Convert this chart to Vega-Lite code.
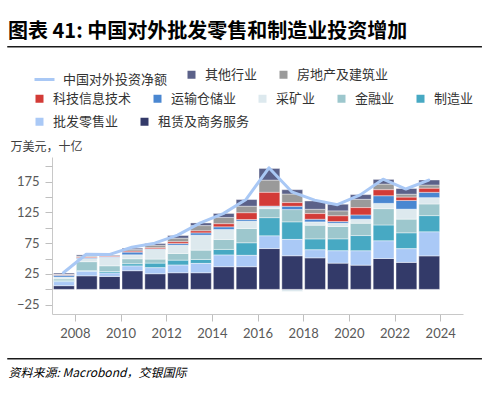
{
  "$schema": "https://vega.github.io/schema/vega-lite/v6.json",
  "width": 411,
  "height": 157,
  "autosize": {"type": "none"},
  "padding": {"left": 52, "top": 157, "right": 25, "bottom": 79},
  "background": "white",
  "config": {
    "view": {"stroke": null},
    "font": "Noto Sans CJK SC",
    "axis": {"labelOverlap": false},
    "legend": {
      "orient": "none", "direction": "horizontal", "title": null,
      "labelFont": "Noto Sans CJK SC", "labelFontSize": 13, "labelColor": "#333333", "labelOffset": 7,
      "columnPadding": 19, "symbolType": "square", "symbolSize": 64, "symbolStrokeWidth": 0
    }
  },
  "title": {
    "text": "图表 41: 中国对外批发零售和制造业投资增加",
    "anchor": "start",
    "frame": "group",
    "dx": -44,
    "fontSize": 20,
    "font": "Noto Sans CJK SC",
    "fontWeight": "bold",
    "color": "#000000"
  },
  "resolve": {"axis": {"y": "independent"}},
  "datasets": {
    "bars": [
      {"year": 2007, "cat": "租赁及商务服务", "value": 6}, {"year": 2007, "cat": "批发零售业", "value": 6.5}, {"year": 2007, "cat": "制造业", "value": 1.5}, {"year": 2007, "cat": "金融业", "value": 3}, {"year": 2007, "cat": "采矿业", "value": 3}, {"year": 2007, "cat": "运输仓储业", "value": 3}, {"year": 2007, "cat": "科技信息技术", "value": 0.5}, {"year": 2007, "cat": "房地产及建筑业", "value": 1}, {"year": 2007, "cat": "其他行业", "value": 2},
      {"year": 2008, "cat": "租赁及商务服务", "value": 22}, {"year": 2008, "cat": "批发零售业", "value": 7}, {"year": 2008, "cat": "制造业", "value": 1.5}, {"year": 2008, "cat": "金融业", "value": 14.5}, {"year": 2008, "cat": "采矿业", "value": 5}, {"year": 2008, "cat": "运输仓储业", "value": 1.5}, {"year": 2008, "cat": "科技信息技术", "value": 1}, {"year": 2008, "cat": "房地产及建筑业", "value": 1.5}, {"year": 2008, "cat": "其他行业", "value": 2},
      {"year": 2009, "cat": "租赁及商务服务", "value": 21}, {"year": 2009, "cat": "批发零售业", "value": 5.4}, {"year": 2009, "cat": "制造业", "value": 2.7}, {"year": 2009, "cat": "金融业", "value": 9.2}, {"year": 2009, "cat": "采矿业", "value": 13.5}, {"year": 2009, "cat": "运输仓储业", "value": 1}, {"year": 2009, "cat": "科技信息技术", "value": 1}, {"year": 2009, "cat": "房地产及建筑业", "value": 1}, {"year": 2009, "cat": "其他行业", "value": 1},
      {"year": 2010, "cat": "租赁及商务服务", "value": 30.3}, {"year": 2010, "cat": "批发零售业", "value": 7.6}, {"year": 2010, "cat": "制造业", "value": 3.8}, {"year": 2010, "cat": "金融业", "value": 8}, {"year": 2010, "cat": "采矿业", "value": 6.5}, {"year": 2010, "cat": "运输仓储业", "value": 4.3}, {"year": 2010, "cat": "科技信息技术", "value": 1.5}, {"year": 2010, "cat": "房地产及建筑业", "value": 2.7}, {"year": 2010, "cat": "其他行业", "value": 2.2},
      {"year": 2011, "cat": "租赁及商务服务", "value": 25.4}, {"year": 2011, "cat": "批发零售业", "value": 9.7}, {"year": 2011, "cat": "制造业", "value": 7.6}, {"year": 2011, "cat": "金融业", "value": 6.5}, {"year": 2011, "cat": "采矿业", "value": 15.7}, {"year": 2011, "cat": "运输仓储业", "value": 1}, {"year": 2011, "cat": "科技信息技术", "value": 1.6}, {"year": 2011, "cat": "房地产及建筑业", "value": 4.3}, {"year": 2011, "cat": "其他行业", "value": 2.7},
      {"year": 2012, "cat": "租赁及商务服务", "value": 27}, {"year": 2012, "cat": "批发零售业", "value": 12.4}, {"year": 2012, "cat": "制造业", "value": 8.1}, {"year": 2012, "cat": "金融业", "value": 10.8}, {"year": 2012, "cat": "采矿业", "value": 13.5}, {"year": 2012, "cat": "运输仓储业", "value": 2.7}, {"year": 2012, "cat": "科技信息技术", "value": 2.7}, {"year": 2012, "cat": "房地产及建筑业", "value": 6}, {"year": 2012, "cat": "其他行业", "value": 4.3},
      {"year": 2013, "cat": "租赁及商务服务", "value": 27}, {"year": 2013, "cat": "批发零售业", "value": 15.1}, {"year": 2013, "cat": "制造业", "value": 6.5}, {"year": 2013, "cat": "金融业", "value": 15.1}, {"year": 2013, "cat": "采矿业", "value": 24.3}, {"year": 2013, "cat": "运输仓储业", "value": 3.8}, {"year": 2013, "cat": "科技信息技术", "value": 3.2}, {"year": 2013, "cat": "房地产及建筑业", "value": 8.6}, {"year": 2013, "cat": "其他行业", "value": 4.3},
      {"year": 2014, "cat": "租赁及商务服务", "value": 36.8}, {"year": 2014, "cat": "批发零售业", "value": 18.9}, {"year": 2014, "cat": "制造业", "value": 9.2}, {"year": 2014, "cat": "金融业", "value": 16.2}, {"year": 2014, "cat": "采矿业", "value": 16.2}, {"year": 2014, "cat": "运输仓储业", "value": 4.3}, {"year": 2014, "cat": "科技信息技术", "value": 4.9}, {"year": 2014, "cat": "房地产及建筑业", "value": 10.3}, {"year": 2014, "cat": "其他行业", "value": 6.5},
      {"year": 2015, "cat": "租赁及商务服务", "value": 36.8}, {"year": 2015, "cat": "批发零售业", "value": 18.4}, {"year": 2015, "cat": "制造业", "value": 20.5}, {"year": 2015, "cat": "金融业", "value": 23.2}, {"year": 2015, "cat": "采矿业", "value": 11.9}, {"year": 2015, "cat": "运输仓储业", "value": 2.7}, {"year": 2015, "cat": "科技信息技术", "value": 10.8}, {"year": 2015, "cat": "房地产及建筑业", "value": 10.8}, {"year": 2015, "cat": "其他行业", "value": 10.8},
      {"year": 2016, "cat": "租赁及商务服务", "value": 66.3}, {"year": 2016, "cat": "批发零售业", "value": 20.5}, {"year": 2016, "cat": "制造业", "value": 29.7}, {"year": 2016, "cat": "金融业", "value": 14.6}, {"year": 2016, "cat": "采矿业", "value": 3.2}, {"year": 2016, "cat": "运输仓储业", "value": 1}, {"year": 2016, "cat": "科技信息技术", "value": 22.2}, {"year": 2016, "cat": "房地产及建筑业", "value": 20}, {"year": 2016, "cat": "其他行业", "value": 18.9},
      {"year": 2017, "cat": "租赁及商务服务", "value": 54.6}, {"year": 2017, "cat": "批发零售业", "value": 26.5}, {"year": 2017, "cat": "制造业", "value": 28.6}, {"year": 2017, "cat": "金融业", "value": 19.9}, {"year": 2017, "cat": "采矿业", "value": -3.5}, {"year": 2017, "cat": "运输仓储业", "value": 5.4}, {"year": 2017, "cat": "科技信息技术", "value": 5.9}, {"year": 2017, "cat": "房地产及建筑业", "value": 14}, {"year": 2017, "cat": "其他行业", "value": 7},
      {"year": 2018, "cat": "租赁及商务服务", "value": 51.2}, {"year": 2018, "cat": "批发零售业", "value": 13}, {"year": 2018, "cat": "制造业", "value": 17.8}, {"year": 2018, "cat": "金融业", "value": 22.2}, {"year": 2018, "cat": "采矿业", "value": 5.4}, {"year": 2018, "cat": "运输仓储业", "value": 4.3}, {"year": 2018, "cat": "科技信息技术", "value": 9.2}, {"year": 2018, "cat": "房地产及建筑业", "value": 7}, {"year": 2018, "cat": "其他行业", "value": 13.5},
      {"year": 2019, "cat": "租赁及商务服务", "value": 42.6}, {"year": 2019, "cat": "批发零售业", "value": 20}, {"year": 2019, "cat": "制造业", "value": 19.5}, {"year": 2019, "cat": "金融业", "value": 20}, {"year": 2019, "cat": "采矿业", "value": 5.4}, {"year": 2019, "cat": "运输仓储业", "value": 2.7}, {"year": 2019, "cat": "科技信息技术", "value": 9.2}, {"year": 2019, "cat": "房地产及建筑业", "value": 8.1}, {"year": 2019, "cat": "其他行业", "value": 10.8},
      {"year": 2020, "cat": "租赁及商务服务", "value": 39.3}, {"year": 2020, "cat": "批发零售业", "value": 23.2}, {"year": 2020, "cat": "制造业", "value": 24.9}, {"year": 2020, "cat": "金融业", "value": 20}, {"year": 2020, "cat": "采矿业", "value": 6.5}, {"year": 2020, "cat": "运输仓储业", "value": 7}, {"year": 2020, "cat": "科技信息技术", "value": 11.9}, {"year": 2020, "cat": "房地产及建筑业", "value": 13.5}, {"year": 2020, "cat": "其他行业", "value": 7.6},
      {"year": 2021, "cat": "租赁及商务服务", "value": 50.1}, {"year": 2021, "cat": "批发零售业", "value": 28.6}, {"year": 2021, "cat": "制造业", "value": 25.9}, {"year": 2021, "cat": "金融业", "value": 26.5}, {"year": 2021, "cat": "采矿业", "value": 8.6}, {"year": 2021, "cat": "运输仓储业", "value": 12.4}, {"year": 2021, "cat": "科技信息技术", "value": 9.7}, {"year": 2021, "cat": "房地产及建筑业", "value": 9.2}, {"year": 2021, "cat": "其他行业", "value": 7.6},
      {"year": 2022, "cat": "租赁及商务服务", "value": 43.8}, {"year": 2022, "cat": "批发零售业", "value": 22.2}, {"year": 2022, "cat": "制造业", "value": 25.9}, {"year": 2022, "cat": "金融业", "value": 22.2}, {"year": 2022, "cat": "采矿业", "value": 16.2}, {"year": 2022, "cat": "运输仓储业", "value": 14}, {"year": 2022, "cat": "科技信息技术", "value": 5.4}, {"year": 2022, "cat": "房地产及建筑业", "value": 4.9}, {"year": 2022, "cat": "其他行业", "value": 9.2},
      {"year": 2023, "cat": "租赁及商务服务", "value": 54.4}, {"year": 2023, "cat": "批发零售业", "value": 38.9}, {"year": 2023, "cat": "制造业", "value": 26.5}, {"year": 2023, "cat": "金融业", "value": 18.9}, {"year": 2023, "cat": "采矿业", "value": 10.3}, {"year": 2023, "cat": "运输仓储业", "value": 8.6}, {"year": 2023, "cat": "科技信息技术", "value": 6.5}, {"year": 2023, "cat": "房地产及建筑业", "value": 5.4}, {"year": 2023, "cat": "其他行业", "value": 8.1}
    ],
    "total": [
      {"year": 2007, "total": 27}, {"year": 2008, "total": 57}, {"year": 2009, "total": 56.5}, {"year": 2010, "total": 68.5}, {"year": 2011, "total": 75}, {"year": 2012, "total": 88}, {"year": 2013, "total": 108}, {"year": 2014, "total": 123}, {"year": 2015, "total": 146}, {"year": 2016, "total": 197.5}, {"year": 2017, "total": 158.5}, {"year": 2018, "total": 145}, {"year": 2019, "total": 137.5}, {"year": 2020, "total": 153.5}, {"year": 2021, "total": 179}, {"year": 2022, "total": 163}, {"year": 2023, "total": 177.5}
    ],
    "frame": [{"pos": "top"}]
  },
  "layer": [
    {
      "data": {"name": "bars"},
      "transform": [
        {"calculate": "indexof(['租赁及商务服务','批发零售业','制造业','金融业','采矿业','运输仓储业','科技信息技术','房地产及建筑业','其他行业'], datum.cat)", "as": "rank"},
        {"stack": "value", "groupby": ["year"], "sort": [{"field": "rank", "order": "ascending"}], "as": ["v0", "v1"], "offset": "zero"}
      ],
      "resolve": {"scale": {"fill": "independent"}, "legend": {"fill": "independent"}},
      "layer": [
        {
          "transform": [{"filter": {"field": "cat", "oneOf": ["其他行业", "房地产及建筑业"]}}],
          "mark": {"type": "bar", "binSpacing": 2, "stroke": "#ffffff", "strokeWidth": 0.5, "strokeOpacity": 0.8},
          "encoding": {
            "x": {
              "field": "year", "type": "quantitative",
              "bin": {"step": 1, "extent": [2007, 2025], "nice": false},
              "scale": {"domain": [2007, 2025]},
              "axis": {
                "values": [2008, 2010, 2012, 2014, 2016, 2018, 2020, 2022, 2024],
                "format": "d", "grid": false, "labelFlush": false, "labelOverlap": false,
                "domainColor": "#c8c8c8", "tickColor": "#bfbfbf", "tickSize": 7,
                "labelFont": "Lato", "labelFontSize": 13, "labelColor": "#595959", "labelPadding": 6,
                "title": "资料来源: Macrobond，交银国际",
                "titleFont": "Noto Sans CJK SC", "titleFontSize": 12, "titleFontStyle": "italic", "titleFontWeight": "normal",
                "titleColor": "#000000", "titleAnchor": null, "titleAlign": "left", "titleBaseline": "middle",
                "titleX": -44, "titleY": 58
              }
            },
            "y": {
              "field": "v0", "type": "quantitative",
              "scale": {"domain": [-40, 215], "nice": false, "zero": false},
              "axis": {
                "orient": "left",
                "values": [-25, 75, 175],
                "labelOverlap": false, "labelFlush": false,
                "grid": false, "domainColor": "#c8c8c8", "tickColor": "#bfbfbf", "tickSize": 7,
                "labelFont": "Lato", "labelFontSize": 13, "labelColor": "#595959", "labelPadding": 6,
                "title": "万美元，十亿", "titleFont": "Noto Sans CJK SC", "titleFontSize": 12, "titleFontWeight": "normal",
                "titleColor": "#404040", "titleAngle": 0, "titleAlign": "left", "titleBaseline": "middle",
                "titleAnchor": null, "titleX": -42, "titleY": -11
              }
            },
            "y2": {"field": "v1"},
            "color": {
              "field": "cat", "type": "nominal",
              "scale": {"domain": ["其他行业", "房地产及建筑业"], "range": ["#5b6189", "#9a9a9a"]},
              "legend": {"legendX": 133, "legendY": -89, "columns": 2}
            }
          }
        },
        {
          "transform": [{"filter": {"field": "cat", "oneOf": ["科技信息技术", "运输仓储业", "采矿业", "金融业", "制造业"]}}],
          "mark": {"type": "bar", "binSpacing": 2, "stroke": "#ffffff", "strokeWidth": 0.5, "strokeOpacity": 0.8},
          "encoding": {
            "x": {"field": "year", "type": "quantitative", "bin": {"step": 1, "extent": [2007, 2025], "nice": false}, "scale": {"domain": [2007, 2025]}},
            "y": {"field": "v0", "type": "quantitative", "scale": {"domain": [-40, 215], "nice": false, "zero": false}},
            "y2": {"field": "v1"},
            "fill": {
              "field": "cat", "type": "nominal",
              "scale": {"domain": ["科技信息技术", "运输仓储业", "采矿业", "金融业", "制造业"], "range": ["#d33b37", "#4a87d1", "#dde9ee", "#9dc7cd", "#47a9c3"]},
              "legend": {"legendX": -19, "legendY": -65, "columns": 5}
            }
          }
        },
        {
          "transform": [{"filter": {"field": "cat", "oneOf": ["批发零售业", "租赁及商务服务"]}}],
          "mark": {"type": "bar", "binSpacing": 2, "stroke": "#ffffff", "strokeWidth": 0.5, "strokeOpacity": 0.8},
          "encoding": {
            "x": {"field": "year", "type": "quantitative", "bin": {"step": 1, "extent": [2007, 2025], "nice": false}, "scale": {"domain": [2007, 2025]}},
            "y": {"field": "v0", "type": "quantitative", "scale": {"domain": [-40, 215], "nice": false, "zero": false}},
            "y2": {"field": "v1"},
            "fill": {
              "field": "cat", "type": "nominal",
              "scale": {"domain": ["批发零售业", "租赁及商务服务"], "range": ["#aac9f6", "#333a69"]},
              "legend": {"legendX": -19, "legendY": -42, "columns": 2}
            }
          }
        }
      ]
    },
    {
      "data": {"name": "total"},
      "mark": {"type": "line", "strokeWidth": 3, "strokeCap": "round", "strokeJoin": "round"},
      "encoding": {
        "x": {"field": "year", "type": "quantitative", "bin": {"step": 1, "extent": [2007, 2025], "nice": false}, "scale": {"domain": [2007, 2025]}},
        "y": {
          "field": "total", "type": "quantitative", "scale": {"domain": [-40, 215], "nice": false, "zero": false},
          "axis": {
            "orient": "left", "values": [25, 125], "domain": false, "grid": false, "title": null,
            "tickColor": "#bfbfbf", "tickSize": 7, "labelOverlap": false, "labelFlush": false,
            "labelFont": "Lato", "labelFontSize": 13, "labelColor": "#595959", "labelPadding": 6
          }
        },
        "stroke": {
          "datum": "中国对外投资净额", "type": "nominal",
          "scale": {"domain": ["中国对外投资净额"], "range": ["#a9c8f5"]},
          "legend": {"legendX": -19, "legendY": -89, "columns": 1, "symbolType": "stroke", "symbolSize": 400, "symbolStrokeWidth": 3, "symbolStrokeColor": "#a9c8f5"}
        }
      }
    },
    {
      "data": {"name": "frame"},
      "mark": {"type": "rule", "color": "#1a1a1a", "strokeWidth": 1.5, "clip": false},
      "encoding": {
        "x": {"datum": 2005.04, "type": "quantitative", "scale": {"domain": [2007, 2025]}},
        "x2": {"datum": 2025.83},
        "y": {
          "datum": 393.9, "type": "quantitative", "scale": {"domain": [-40, 215], "nice": false, "zero": false},
          "axis": {"orient": "left", "values": [0, 50, 100, 150, 200], "labels": false, "domain": false, "grid": false, "title": null, "tickColor": "#bfbfbf", "tickSize": 7}
        }
      }
    },
    {
      "data": {"name": "frame"},
      "mark": {"type": "rule", "color": "#1a1a1a", "strokeWidth": 1.5, "clip": false},
      "encoding": {
        "x": {"datum": 2005.04, "type": "quantitative", "scale": {"domain": [2007, 2025]}},
        "x2": {"datum": 2025.83},
        "y": {"datum": -112.5, "type": "quantitative", "scale": {"domain": [-40, 215], "nice": false, "zero": false}, "axis": null}
      }
    }
  ]
}
